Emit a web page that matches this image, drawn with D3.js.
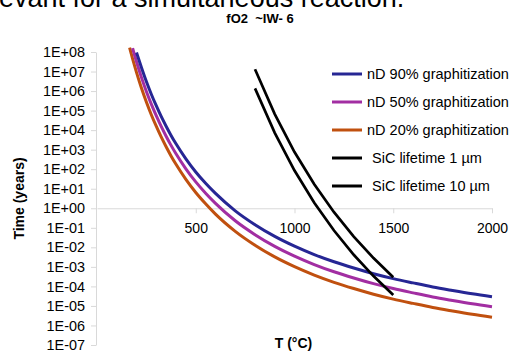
<!DOCTYPE html>
<html>
<head>
<meta charset="utf-8">
<script src="https://cdn.jsdelivr.net/npm/d3@7"></script>
<style>
  body { margin: 0; background: #fff; }
  svg { display: block; font-family: "Liberation Sans", Arial, sans-serif; }
  .axis path, .axis line { stroke: #d9d9d9; }
  .axis text { fill: #000; font-size: 14px; }
  .y-axis text { font-size: 14.4px; }
</style>
</head>
<body>
<div id="chart"></div>
<script>
// temperatures (°C) shared by the three nanodiamond curves
const tempsC = [165, 180, 200, 225, 250, 275, 300, 325, 350, 375, 400, 450, 500, 550, 600,
  700, 800, 900, 1000, 1100, 1200, 1300, 1400, 1500, 1600, 1700, 1800, 1900, 2000];
// log10(time in years); null = no point
const nd90 = [null, null, 7.97, 7.21, 6.49, 5.84, 5.25, 4.70, 4.20, 3.73, 3.30, 2.53, 1.86, 1.28, 0.76,
  -0.13, -0.84, -1.44, -1.94, -2.37, -2.74, -3.06, -3.35, -3.60, -3.82, -4.03, -4.21, -4.38, -4.53];
const nd50 = [null, 8.20, 7.50, 6.70, 5.98, 5.33, 4.74, 4.19, 3.69, 3.22, 2.79, 2.02, 1.35, 0.77, 0.25,
  -0.64, -1.35, -1.95, -2.45, -2.88, -3.25, -3.57, -3.86, -4.11, -4.33, -4.54, -4.72, -4.89, -5.04];
const nd20 = [8.22, 7.66, 6.96, 6.16, 5.44, 4.79, 4.20, 3.65, 3.15, 2.68, 2.25, 1.48, 0.81, 0.23, -0.30,
  -1.18, -1.89, -2.49, -2.99, -3.42, -3.79, -4.11, -4.40, -4.65, -4.87, -5.08, -5.26, -5.43, -5.58];

// SiC lifetimes
const sicTemps = [800, 900, 1000, 1100, 1200, 1300, 1400, 1500];
const sic1 = [6.14, 3.86, 1.93, 0.28, -1.14, -2.38, -3.47, -4.44];
const sic10 = [7.12, 4.82, 2.88, 1.23, -0.20, -1.45, -2.55, -3.53];

const seriesNames = ['nD 90% graphitization', 'nD 50% graphitization', 'nD 20% graphitization',
  'SiC lifetime 1 µm', 'SiC lifetime 10 µm'];
const seriesColors = ['#262694', '#a22ea2', '#c0500f', '#000000', '#000000'];

const xTicks = [500, 1000, 1500, 2000];
const xTickLabels = ['500', '1000', '1500', '2000'];
const yTickExps = [8, 7, 6, 5, 4, 3, 2, 1, 0, -1, -2, -3, -4, -5, -6, -7];
const yTickLabels = ['1E+08', '1E+07', '1E+06', '1E+05', '1E+04', '1E+03', '1E+02', '1E+01',
  '1E+00', '1E-01', '1E-02', '1E-03', '1E-04', '1E-05', '1E-06', '1E-07'];

const width = 512;
const height = 351;
const plot = {left: 97, right: 492, top: 52, bottom: 345};

const svg = d3.select('#chart')
  .append('svg')
  .attr('width', width)
  .attr('height', height);

// slide text cut off at the top
svg.append('text')
  .attr('x', -1)
  .attr('y', 7)
  .style('font-size', '27px')
  .text('evant for a simultaneous reaction.');

svg.append('text')
  .attr('x', 260)
  .attr('y', 23)
  .attr('text-anchor', 'middle')
  .style('font-size', '13px')
  .style('font-weight', 'bold')
  .style('white-space', 'pre')
  .text('fO2  ~IW- 6');

const x = d3.scaleLinear().domain([0, 2000]).range([plot.left, plot.right]);
const y = d3.scaleLog().domain([1e-7, 1e8]).range([plot.bottom, plot.top]);

// y axis
svg.append('g')
  .attr('class', 'axis y-axis')
  .attr('transform', 'translate(' + (plot.left - 1) + ',0)')
  .call(d3.axisLeft(y)
    .tickValues(yTickExps.map(e => Math.pow(10, e)))
    .tickFormat((d, i) => yTickLabels[i])
    .tickSize(5)
    .tickSizeOuter(0)
    .tickPadding(6));

// x axis sits on 1E+00
svg.append('g')
  .attr('class', 'axis x-axis')
  .attr('transform', 'translate(0,' + y(1) + ')')
  .call(d3.axisBottom(x)
    .tickValues(xTicks)
    .tickFormat((d, i) => xTickLabels[i])
    .tickSize(5)
    .tickSizeOuter(0)
    .tickPadding(10));

// axis titles
svg.append('text')
  .attr('transform', 'translate(19,' + ((plot.top + plot.bottom) / 2) + ') rotate(-90)')
  .attr('text-anchor', 'middle')
  .attr('dy', '0.35em')
  .style('font-size', '14px')
  .style('font-weight', 'bold')
  .text('Time (years)');

svg.append('text')
  .attr('x', (plot.left + plot.right) / 2 - 1)
  .attr('y', 343)
  .attr('text-anchor', 'middle')
  .attr('dy', '0.35em')
  .style('font-size', '14px')
  .style('font-weight', 'bold')
  .text('T (°C)');

const line = d3.line()
  .defined(d => d[1] != null)
  .curve(d3.curveMonotoneX)
  .x(d => x(d[0]))
  .y(d => y(Math.pow(10, d[1])));

const sicLine = d3.line()
  .x(d => x(d[0]))
  .y(d => y(Math.pow(10, d[1])));

const curves = [nd90, nd50, nd20];
// draw orange first so blue ends up on top
[2, 1, 0].forEach(i => {
  svg.append('path')
    .datum(tempsC.map((t, k) => [t, curves[i][k]]))
    .attr('fill', 'none')
    .attr('stroke', seriesColors[i])
    .attr('stroke-width', 3)
    .attr('d', line);
});

[sic1, sic10].forEach((vals, i) => {
  svg.append('path')
    .datum(sicTemps.map((t, k) => [t, vals[k]]))
    .attr('fill', 'none')
    .attr('stroke', seriesColors[3 + i])
    .attr('stroke-width', 2.7)
    .attr('d', sicLine);
});

// legend
const legend = svg.append('g');
seriesNames.forEach((name, i) => {
  const ly = 74 + i * 28;
  legend.append('line')
    .attr('x1', 332)
    .attr('x2', 362)
    .attr('y1', ly)
    .attr('y2', ly)
    .attr('stroke', seriesColors[i])
    .attr('stroke-width', 3);
  legend.append('text')
    .attr('x', i < 3 ? 367 : 372)
    .attr('y', ly)
    .attr('dy', '0.35em')
    .style('font-size', '14.5px')
    .text(name);
});
</script>
</body>
</html>
